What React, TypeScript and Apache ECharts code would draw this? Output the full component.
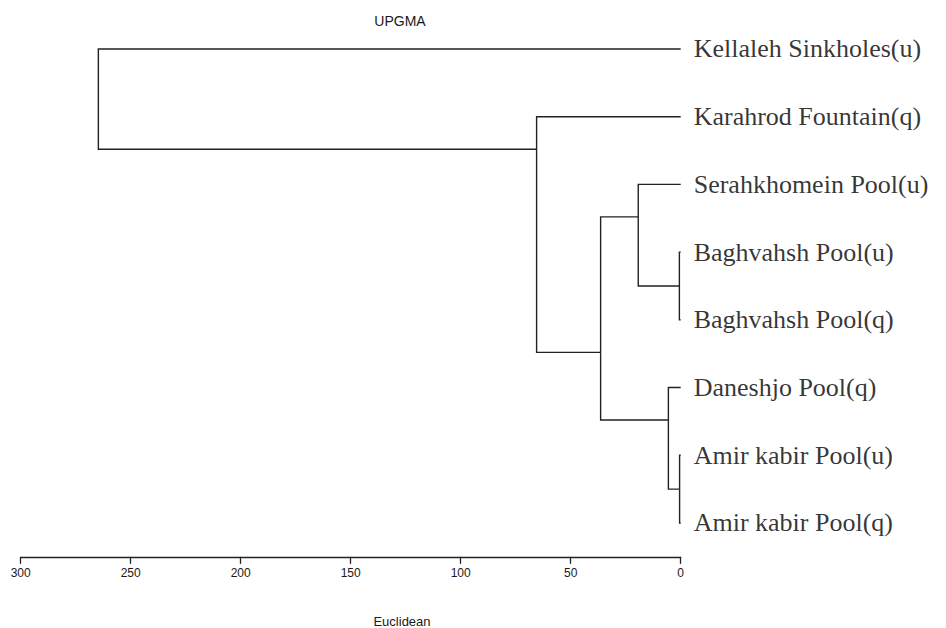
import React, { useEffect, useRef } from "react";
import * as echarts from "echarts";

// Leaves, top to bottom (row index = position on the vertical axis)
const leafNames = [
  "Kellaleh Sinkholes(u)",
  "Karahrod Fountain(q)",
  "Serahkhomein Pool(u)",
  "Baghvahsh Pool(u)",
  "Baghvahsh Pool(q)",
  "Daneshjo Pool(q)",
  "Amir kabir Pool(u)",
  "Amir kabir Pool(q)",
];

// Merge steps: negative = leaf (1-based), positive = earlier merge step (1-based)
const mergeLeft = [-4, -7, -6, -3, 4, -2, -1];
const mergeRight = [-5, -8, 2, 1, 3, 5, 6];
// Euclidean distance at which each merge happens
const mergeHeight = [0.6, 0.5, 5.6, 19.3, 36.4, 65.5, 264.7];
// Row position where each cluster's branch joins its parent
const mergeJoin = [3.5, 6.5, 5.48, 2.48, 4.48, 1.48, 0.74];

const xTicks = { min: 0, max: 300, interval: 50 };

function nodeHeight(ref: number): number {
  return ref < 0 ? 0 : mergeHeight[ref - 1];
}
function nodeJoin(ref: number): number {
  return ref < 0 ? -ref - 1 : mergeJoin[ref - 1];
}

function buildBranches() {
  const out: { coords: number[][] }[] = [];
  mergeHeight.forEach((h, k) => {
    const j = mergeJoin[k];
    [mergeLeft[k], mergeRight[k]].forEach((child) => {
      const ch = nodeHeight(child);
      const cy = nodeJoin(child);
      out.push({ coords: [[ch, cy], [h, cy], [h, j]] });
    });
  });
  return out;
}

export default function App() {
  const ref = useRef<HTMLDivElement>(null);

  useEffect(() => {
    if (!ref.current) return;
    const chart = echarts.init(ref.current, null, { renderer: "svg" });
    const labelFont = "'Liberation Serif', 'Times New Roman', serif";
    const sansFont = "'Liberation Sans', Arial, sans-serif";
    chart.setOption({
      animation: false,
      backgroundColor: "#ffffff",
      title: [
        {
          text: "UPGMA",
          left: 395,
          top: 9,
          textAlign: "center",
          textStyle: { fontFamily: sansFont, fontSize: 14, fontWeight: "normal", color: "#1a1a1a" },
        },
        {
          text: "Euclidean",
          left: 397,
          top: 610,
          textAlign: "center",
          textStyle: { fontFamily: sansFont, fontSize: 13, fontWeight: "normal", color: "#1a1a1a" },
        },
      ],
      grid: { left: 20.7, right: 265.3, top: 15.14, height: 541.7 },
      xAxis: {
        type: "value",
        inverse: true,
        min: xTicks.min,
        max: xTicks.max,
        interval: xTicks.interval,
        position: "bottom",
        splitLine: { show: false },
        axisLine: { show: true, onZero: false, lineStyle: { color: "#222", width: 1.3 } },
        axisTick: { show: true, inside: false, length: 7, lineStyle: { color: "#222", width: 1.3 } },
        axisLabel: { margin: 10, fontFamily: sansFont, fontSize: 12, color: "#1a1a1a" },
      },
      yAxis: {
        type: "value",
        inverse: true,
        min: -0.5,
        max: 7.5,
        show: false,
        splitLine: { show: false },
      },
      series: [
        {
          type: "lines",
          coordinateSystem: "cartesian2d",
          polyline: true,
          silent: true,
          lineStyle: { color: "#222", width: 1.4, opacity: 1, join: "miter", cap: "butt" },
          data: buildBranches(),
        },
        {
          type: "scatter",
          symbolSize: 0,
          silent: true,
          data: leafNames.map((name, i) => ({ value: [0, i], name })),
          label: {
            show: true,
            position: "right",
            distance: 13,
            formatter: (p: any) => p.name,
            fontFamily: labelFont,
            fontSize: 26,
            color: "#000",
          },
        },
      ],
    });
    return () => chart.dispose();
  }, []);

  return (
    <div
      ref={ref}
      style={{ position: "fixed", left: 0, top: 0, width: 946, height: 628, background: "#fff" }}
    />
  );
}
